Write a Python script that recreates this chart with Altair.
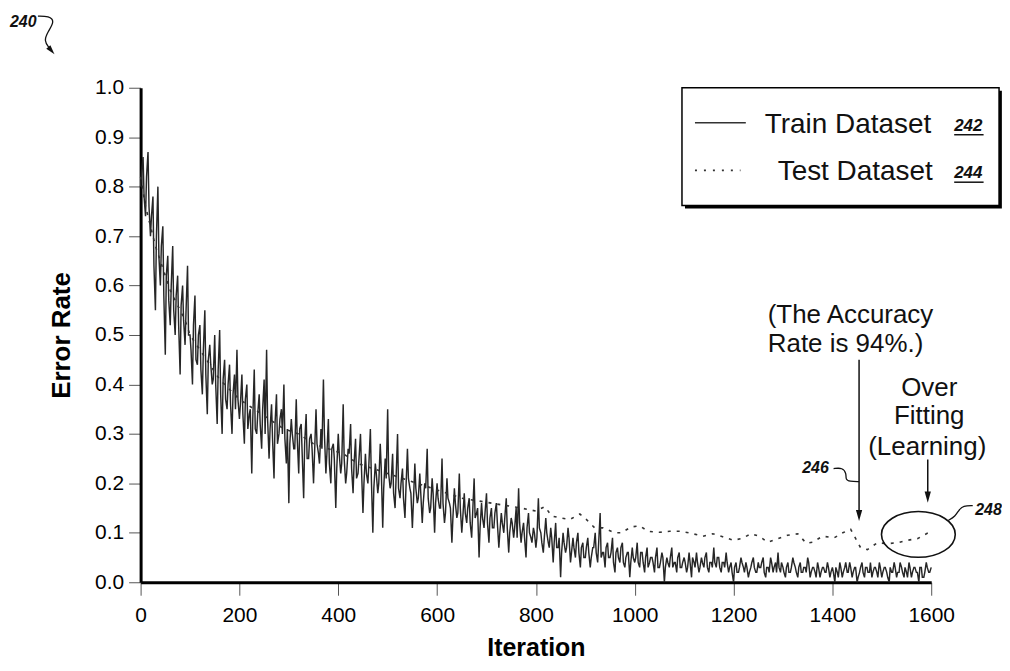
import altair as alt
import pandas as pd

# ---------------- data ----------------
# Train error at iterations 0, 5, 10, ... 1600 (outer swings of the noisy band)
train_iter = list(range(0, 1601, 5))
train_err = [
    # 0-95
    0.80, 0.86, 0.74, 0.87, 0.70, 0.78, 0.55, 0.80, 0.60, 0.72,
    0.46, 0.66, 0.52, 0.68, 0.50, 0.62, 0.42, 0.60, 0.48, 0.64,
    # 100-195
    0.50, 0.40, 0.58, 0.44, 0.52, 0.38, 0.55, 0.34, 0.48, 0.40,
    0.50, 0.32, 0.51, 0.30, 0.45, 0.35, 0.44, 0.30, 0.42, 0.47,
    # 200-295
    0.33, 0.42, 0.28, 0.40, 0.34, 0.22, 0.43, 0.30, 0.38, 0.27,
    0.41, 0.47, 0.25, 0.36, 0.21, 0.38, 0.30, 0.35, 0.40, 0.24,
    # 300-395
    0.16, 0.33, 0.27, 0.37, 0.22, 0.32, 0.17, 0.34, 0.25, 0.30,
    0.20, 0.35, 0.26, 0.31, 0.41, 0.22, 0.33, 0.20, 0.28, 0.15,
    # 400-495
    0.30, 0.22, 0.36, 0.20, 0.27, 0.32, 0.18, 0.29, 0.22, 0.30,
    0.14, 0.26, 0.20, 0.31, 0.10, 0.24, 0.18, 0.28, 0.11, 0.25,
    # 500-595
    0.35, 0.19, 0.26, 0.15, 0.30, 0.17, 0.23, 0.13, 0.27, 0.19,
    0.11, 0.24, 0.16, 0.22, 0.12, 0.20, 0.27, 0.14, 0.21, 0.10,
    # 600-695
    0.20, 0.15, 0.25, 0.12, 0.21, 0.16, 0.08, 0.19, 0.13, 0.22,
    0.10, 0.18, 0.12, 0.17, 0.09, 0.21, 0.14, 0.05, 0.16, 0.11,
    # 700-795
    0.18, 0.08, 0.15, 0.11, 0.16, 0.07, 0.14, 0.10, 0.17, 0.06,
    0.13, 0.09, 0.15, 0.19, 0.08, 0.12, 0.05, 0.14, 0.09, 0.11,
    # 800-895
    0.07, 0.17, 0.10, 0.06, 0.13, 0.08, 0.11, 0.04, 0.12, 0.07,
    0.01, 0.10, 0.06, 0.11, 0.04, 0.09, 0.05, 0.10, 0.03, 0.08,
    # 900-995
    0.05, 0.09, 0.03, 0.07, 0.10, 0.04, 0.14, 0.06, 0.03, 0.08,
    0.05, 0.09, 0.02, 0.07, 0.04, 0.08, 0.03, 0.06, 0.01, 0.07,
    # 1000-1095
    0.04, 0.08, 0.03, 0.06, 0.02, 0.07, 0.04, 0.05, 0.02, 0.07,
    0.03, 0.06, 0.00, 0.05, 0.03, 0.07, 0.04, 0.02, 0.06, 0.03,
    # 1100-1195
    0.05, 0.02, 0.06, 0.01, 0.04, 0.06, 0.02, 0.05, 0.03, 0.06,
    0.02, 0.04, 0.07, 0.03, 0.05, 0.02, 0.04, 0.06, 0.02, 0.04,
    # 1200-1295
    0.00, 0.04, 0.02, 0.05, 0.03, 0.04, 0.01, 0.03, 0.05, 0.02,
    0.04, 0.03, 0.05, 0.01, 0.03, 0.05, 0.02, 0.04, 0.06, 0.02,
    # 1300-1395
    0.03, 0.01, 0.04, 0.02, 0.05, 0.03, 0.01, 0.04, 0.02, 0.03,
    0.05, 0.01, 0.03, 0.02, 0.04, 0.01, 0.03, 0.02, 0.04, 0.01,
    # 1400-1495
    0.03, 0.00, 0.02, 0.04, 0.01, 0.03, 0.02, 0.04, 0.01, 0.03,
    0.00, 0.02, 0.04, 0.01, 0.03, 0.02, 0.01, 0.03, 0.02, 0.04,
    # 1500-1600
    0.01, 0.03, 0.02, 0.00, 0.02, 0.04, 0.01, 0.02, 0.03, 0.01,
    0.02, 0.04, 0.01, 0.03, 0.02, 0.00, 0.03, 0.01, 0.04, 0.02,
    0.03,
]

# Train error at iterations 2, 7, 12, ... 1597 (dense core of the band)
train_iter_b = list(range(2, 1600, 5))
train_err_b = [
    0.83, 0.78, 0.82, 0.76, 0.74, 0.64, 0.70, 0.66, 0.68, 0.58, 0.62, 0.57, 0.60, 0.55, 0.58, 0.52, 0.56, 0.53, 0.55, 0.50,
    0.47, 0.52, 0.45, 0.50, 0.43, 0.47, 0.42, 0.45, 0.44, 0.41, 0.40, 0.43, 0.38, 0.41, 0.37, 0.40, 0.36, 0.38, 0.35, 0.37,
    0.36, 0.34, 0.37, 0.31, 0.35, 0.33, 0.31, 0.34, 0.32, 0.35, 0.30, 0.33, 0.31, 0.29, 0.32, 0.28, 0.33, 0.30, 0.29, 0.31,
    0.28, 0.30, 0.27, 0.29, 0.31, 0.26, 0.28, 0.25, 0.29, 0.27, 0.26, 0.28, 0.24, 0.27, 0.30, 0.26, 0.24, 0.27, 0.25, 0.23,
    0.26, 0.24, 0.25, 0.22, 0.26, 0.23, 0.24, 0.21, 0.25, 0.23, 0.20, 0.22, 0.24, 0.21, 0.19, 0.22, 0.20, 0.23, 0.19, 0.21,
    0.22, 0.20, 0.18, 0.21, 0.19, 0.20, 0.17, 0.19, 0.21, 0.18, 0.16, 0.19, 0.17, 0.18, 0.16, 0.19, 0.17, 0.15, 0.18, 0.16,
    0.17, 0.15, 0.16, 0.14, 0.17, 0.15, 0.13, 0.16, 0.14, 0.15, 0.13, 0.14, 0.15, 0.12, 0.14, 0.13, 0.15, 0.11, 0.13, 0.14,
    0.12, 0.13, 0.11, 0.14, 0.12, 0.10, 0.12, 0.13, 0.11, 0.10, 0.12, 0.11, 0.09, 0.12, 0.10, 0.09, 0.11, 0.10, 0.08, 0.10,
    0.09, 0.11, 0.08, 0.09, 0.10, 0.07, 0.09, 0.08, 0.07, 0.09, 0.06, 0.08, 0.07, 0.09, 0.06, 0.07, 0.08, 0.06, 0.07, 0.05,
    0.07, 0.06, 0.05, 0.07, 0.06, 0.08, 0.05, 0.06, 0.07, 0.05, 0.06, 0.04, 0.06, 0.05, 0.07, 0.04, 0.05, 0.06, 0.04, 0.05,
    0.05, 0.04, 0.06, 0.04, 0.05, 0.03, 0.05, 0.04, 0.05, 0.03, 0.04, 0.05, 0.03, 0.04, 0.05, 0.03, 0.04, 0.05, 0.03, 0.04,
    0.04, 0.03, 0.04, 0.05, 0.03, 0.04, 0.03, 0.04, 0.05, 0.03, 0.04, 0.03, 0.04, 0.05, 0.03, 0.04, 0.03, 0.04, 0.03, 0.02,
    0.03, 0.02, 0.03, 0.04, 0.02, 0.03, 0.02, 0.04, 0.03, 0.02, 0.03, 0.04, 0.02, 0.03, 0.02, 0.04, 0.03, 0.02, 0.03, 0.04,
    0.02, 0.03, 0.02, 0.03, 0.04, 0.02, 0.03, 0.02, 0.03, 0.02, 0.04, 0.02, 0.03, 0.01, 0.03, 0.02, 0.03, 0.02, 0.03, 0.02,
    0.02, 0.03, 0.01, 0.03, 0.02, 0.04, 0.02, 0.03, 0.02, 0.03, 0.01, 0.03, 0.02, 0.03, 0.02, 0.04, 0.02, 0.03, 0.01, 0.03,
    0.02, 0.03, 0.01, 0.03, 0.02, 0.03, 0.02, 0.04, 0.02, 0.03, 0.01, 0.03, 0.02, 0.03, 0.02, 0.03, 0.01, 0.02, 0.03, 0.02,
]

test_iter = [0, 10, 20, 30, 40, 50, 60, 70, 80, 90, 100, 120, 140, 160, 180,
             200, 230, 260, 290, 320, 350, 380, 410, 440, 470, 500, 530, 560,
             590, 620, 650, 680, 710, 740, 770, 800, 818, 832, 850, 869, 889,
             902, 919, 936, 960, 973, 993, 1010, 1027, 1051, 1071, 1094, 1114,
             1138, 1158, 1178, 1199, 1215, 1236, 1252, 1269, 1289, 1309, 1330,
             1347, 1360, 1380, 1404, 1421, 1437, 1457, 1471, 1491, 1512, 1532,
             1552, 1572, 1592, 1600]
test_err = [0.82, 0.76, 0.72, 0.68, 0.65, 0.62, 0.59, 0.57, 0.55, 0.53, 0.50,
            0.47, 0.44, 0.41, 0.39, 0.37, 0.35, 0.33, 0.31, 0.30, 0.28, 0.27,
            0.26, 0.24, 0.23, 0.22, 0.21, 0.20, 0.19, 0.18, 0.17, 0.165, 0.16,
            0.155, 0.15, 0.144, 0.153, 0.134, 0.13, 0.127, 0.138, 0.127, 0.110,
            0.110, 0.100, 0.100, 0.112, 0.114, 0.103, 0.101, 0.103, 0.103,
            0.099, 0.093, 0.098, 0.092, 0.085, 0.088, 0.098, 0.093, 0.081,
            0.088, 0.095, 0.098, 0.079, 0.081, 0.093, 0.090, 0.100, 0.107,
            0.070, 0.066, 0.080, 0.078, 0.080, 0.085, 0.088, 0.099, 0.102]

x_ticks = [0, 200, 400, 600, 800, 1000, 1200, 1400, 1600]
y_ticks = [0.0, 0.1, 0.2, 0.3, 0.4, 0.5, 0.6, 0.7, 0.8, 0.9, 1.0]

# ---------------- annotation content ----------------
legend_labels = ["Train Dataset", "Test Dataset"]
legend_refs = ["242", "244"]
note1_lines = ["(The Accuracy", "Rate is 94%.)"]
note2_lines = ["Over", "Fitting", "(Learning)"]
ref_labels = ["240", "246", "248"]

FONT = "Liberation Sans, Arial, sans-serif"
NARROW = "Liberation Sans Narrow, Arial Narrow, Liberation Sans, sans-serif"

train_df = pd.concat([
    pd.DataFrame({"it": train_iter, "v": train_err}),
    pd.DataFrame({"it": train_iter_b, "v": train_err_b}),
]).sort_values("it").reset_index(drop=True)
test_df = pd.DataFrame({"it": test_iter, "v": test_err})

xs = alt.Scale(domain=[0, 1600], nice=False, zero=False)
ys = alt.Scale(domain=[0, 1], nice=False, zero=False)
x_axis = alt.Axis(values=x_ticks, format="d", title="Iteration", labelFont=NARROW,
                  labelFontSize=21, titleFont=NARROW, titleFontSize=25,
                  titleFontWeight="bold", tickSize=13, tickColor="#555555",
                  tickWidth=1, domainColor="black", domainWidth=3, labelPadding=9,
                  titlePadding=10, grid=False, labelColor="black",
                  titleColor="black", labelFlush=False)
y_axis = alt.Axis(values=y_ticks, format=".1f", title="Error Rate", labelFont=FONT,
                  labelFontSize=21, titleFont=FONT, titleFontSize=26,
                  titleFontWeight="bold", tickSize=12, tickColor="#555555",
                  tickWidth=1, domainColor="black", domainWidth=3, labelPadding=5,
                  titlePadding=20, grid=False, labelColor="black", titleColor="black")

X = alt.X("it:Q", scale=xs, axis=x_axis)
Y = alt.Y("v:Q", scale=ys, axis=y_axis)

train = alt.Chart(train_df).mark_line(color="#262626", strokeWidth=1.45).encode(
    x=X, y=Y, order="it:Q")
test = alt.Chart(test_df).mark_line(color="#333333", strokeWidth=1.6,
                                    strokeDash=[3, 6]).encode(x=X, y=Y, order="it:Q")

# legend box with drop shadow
box_df = pd.DataFrame({"it": [1101.7, 1095.6], "it2": [1743.0, 1737.3],
                       "v": [0.994, 1.0], "v2": [0.756, 0.762], "k": ["shadow", "box"]})
shadow = alt.Chart(box_df[box_df.k == "shadow"]).mark_rect(color="black").encode(
    x=X, x2="it2:Q", y=Y, y2="v2:Q")
box = alt.Chart(box_df[box_df.k == "box"]).mark_rect(
    fill="white", stroke="black", strokeWidth=1.5).encode(x=X, x2="it2:Q", y=Y, y2="v2:Q")

samp_solid = alt.Chart(pd.DataFrame({"it": [1121.9], "it2": [1224.8], "v": [0.929]})).mark_rule(
    color="#333333", strokeWidth=1.5).encode(x=X, x2="it2:Q", y=Y)
samp_dot = alt.Chart(pd.DataFrame({"it": [1121.9], "it2": [1214.0], "v": [0.833]})).mark_rule(
    color="#333333", strokeWidth=1.8, strokeDash=[2, 7]).encode(x=X, x2="it2:Q", y=Y)

leg_text = alt.Chart(pd.DataFrame({"it": [1263.1, 1289.3], "v": [0.925, 0.829],
                                   "t": legend_labels})).mark_text(
    align="left", baseline="middle", font=FONT, fontSize=28, color="#111111").encode(
    x=X, y=Y, text="t:N")
leg_ref = alt.Chart(pd.DataFrame({"it": [1646.5, 1646.5], "v": [0.923, 0.827],
                                  "t": legend_refs})).mark_text(
    align="left", baseline="middle", font=FONT, fontSize=17, fontWeight="bold",
    fontStyle="italic", color="#111111").encode(x=X, y=Y, text="t:N")
leg_ul = alt.Chart(pd.DataFrame({"it": [1646.5, 1646.5], "it2": [1706.0, 1706.0],
                                 "v": [0.905, 0.809]})).mark_rule(
    color="#111111", strokeWidth=1.5).encode(x=X, x2="it2:Q", y=Y)

# annotation texts
notes = alt.Chart(pd.DataFrame({
    "it": [1436.6, 1426.6, 1596.0, 1596.0, 1592.0],
    "v": [0.540, 0.482, 0.393, 0.337, 0.274],
    "t": note1_lines + note2_lines})).mark_text(
    align="center", baseline="middle", font=FONT, fontSize=26, color="#111111").encode(
    x=X, y=Y, text="t:N")

refs = alt.Chart(pd.DataFrame({
    "it": [-264.3, 1339.0, 1689.0],
    "v": [1.133, 0.232, 0.147],
    "t": ref_labels})).mark_text(
    align="left", baseline="middle", font=FONT, fontSize=16, fontWeight="bold",
    fontStyle="italic", color="#111111").encode(x=X, y=Y, text="t:N")

# arrows
shafts = alt.Chart(pd.DataFrame({"it": [1454.0, 1593.0], "v": [0.450, 0.248],
                                 "v2": [0.143, 0.177]})).mark_rule(
    color="#111111", strokeWidth=1.5).encode(x=X, y=Y, y2="v2:Q")
HEAD = "M-0.45,-0.8L0.45,-0.8L0,0.8Z"
heads = alt.Chart(pd.DataFrame({"it": [1454.0, 1593.0], "v": [0.135, 0.172]})).mark_point(
    shape=HEAD, filled=True, color="#111111", size=196, opacity=1).encode(x=X, y=Y)
head240 = alt.Chart(pd.DataFrame({"it": [-180.5], "v": [1.075]})).mark_point(
    shape=HEAD, filled=True, color="#111111", size=144, opacity=1, angle=320).encode(x=X, y=Y)

# squiggly leader lines
sq_df = pd.DataFrame({
    "g": ["a"] * 6 + ["b"] * 6 + ["c"] * 5,
    "o": list(range(6)) + list(range(6)) + list(range(5)),
    "it": [-207.8, -185.6, -173.5, -187.7, -195.7, -185.0,
           1402.4, 1420.5, 1428.6, 1426.6, 1434.6, 1454.0,
           1634.4, 1648.5, 1656.6, 1664.7, 1684.0],
    "v": [1.145, 1.145, 1.135, 1.113, 1.095, 1.081,
          0.2298, 0.2319, 0.2198, 0.2077, 0.2036, 0.2036,
          0.125, 0.133, 0.147, 0.155, 0.155]})
squig = alt.Chart(sq_df).mark_line(color="#111111", strokeWidth=1.3,
                                    interpolate="basis").encode(
    x=X, y=Y, detail="g:N", order="o:Q")

# ellipse around the over-fitting region
ELLIPSE = "M-1,0A1,0.62,0,1,0,1,0A1,0.62,0,1,0,-1,0Z"
ell = alt.Chart(pd.DataFrame({"it": [1574.0], "v": [0.0968]})).mark_point(
    shape=ELLIPSE, filled=False, color="#111111", strokeWidth=1.6, size=5476,
    opacity=1).encode(x=X, y=Y)

chart = alt.layer(
    train, test, shadow, box, samp_solid, samp_dot, leg_text, leg_ref, leg_ul,
    notes, refs, shafts, heads, head240, squig, ell
).properties(
    width=793, height=496,
    autosize=alt.AutoSizeParams(type="none"),
    padding={"left": 133, "top": 79, "right": 71, "bottom": 78},
    background="white",
).configure_view(stroke=None)

chart.save("out.html", embed_options={"renderer": "svg", "actions": False})
